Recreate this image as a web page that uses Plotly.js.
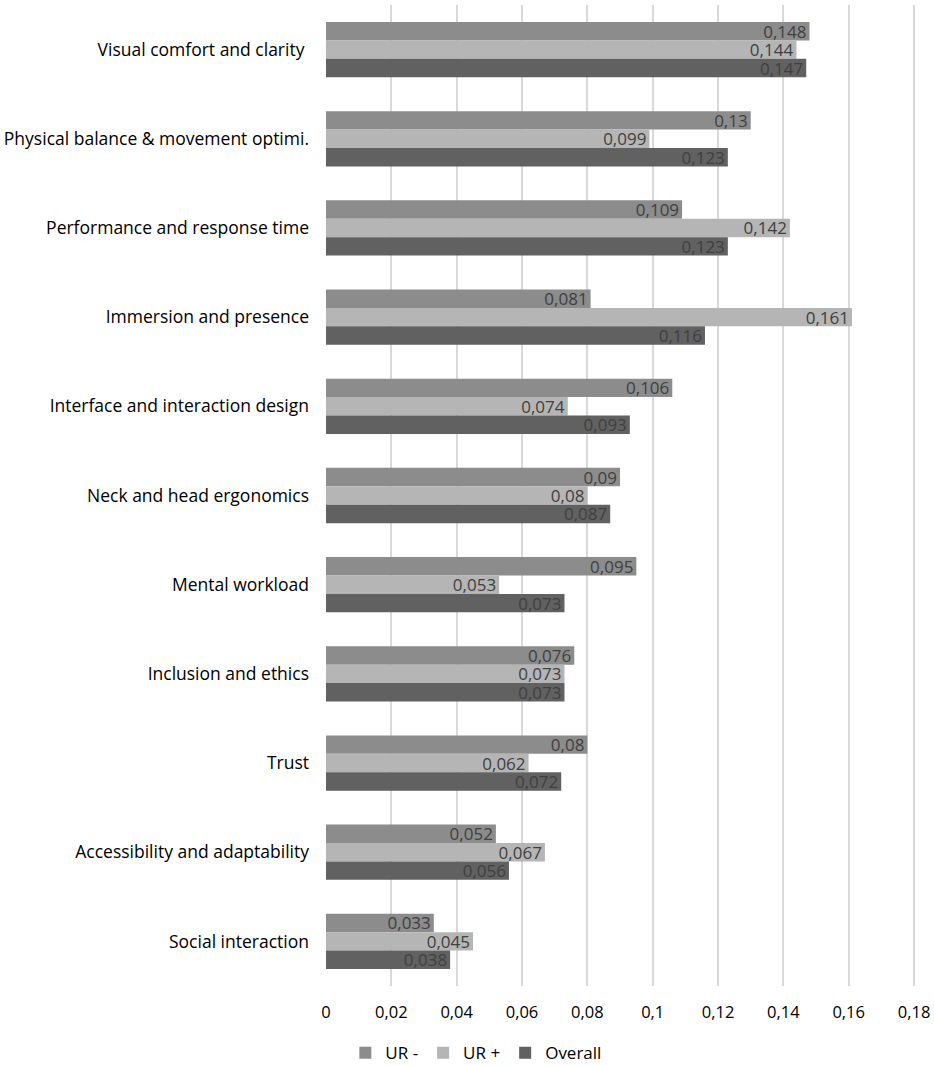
<!DOCTYPE html>
<html>
<head>
<meta charset="utf-8">
<script src="https://cdn.plot.ly/plotly-3.0.1.min.js"></script>
<style>
  html, body { margin: 0; padding: 0; background: #fff; }
  #chart { width: 934px; height: 1066px; }
</style>
</head>
<body>
<div id="chart"></div>
<script>
const categories = [
  "Visual comfort and clarity ",
  "Physical balance & movement optimi.",
  "Performance and response time",
  "Immersion and presence",
  "Interface and interaction design",
  "Neck and head ergonomics",
  "Mental workload",
  "Inclusion and ethics",
  "Trust",
  "Accessibility and adaptability",
  "Social interaction",
]
const urMinus = [0.148, 0.13, 0.109, 0.081, 0.106, 0.09, 0.095, 0.076, 0.08, 0.052, 0.033]
const urPlus = [0.144, 0.099, 0.142, 0.161, 0.074, 0.08, 0.053, 0.073, 0.062, 0.067, 0.045]
const overall = [0.147, 0.123, 0.123, 0.116, 0.093, 0.087, 0.073, 0.073, 0.072, 0.056, 0.038]
const tickVals = [0, 0.02, 0.04, 0.06, 0.08, 0.1, 0.12, 0.14, 0.16, 0.18]

const FONT = "Open Sans, sans-serif"

// comma as decimal separator, like the original
const label = (v) => String(v).replace(".", ",")

function series(name, values, color) {
  return {
    type: "bar",
    orientation: "h",
    name: name,
    y: categories,
    x: values,
    text: values.map(label),
    textposition: "inside",
    insidetextanchor: "end",
    constraintext: "none",
    textangle: 0,
    textfont: { family: FONT, size: 17, color: "#404040" },
    marker: { color: color },
    hoverinfo: "x+name",
  }
}

const data = [
  series("UR -", urMinus, "#8c8c8c"),
  series("UR +", urPlus, "#b5b5b5"),
  series("Overall", overall, "#616161"),
]

Plotly.newPlot("chart", data, {
  width: 934,
  height: 1066,
  margin: { l: 326, r: 18, t: 5, b: 80 },
  paper_bgcolor: "#fff",
  plot_bgcolor: "#fff",
  font: { family: FONT, size: 17.5, color: "#000" },
  separators: ",.",
  barmode: "group",
  bargap: 0.38,
  bargroupgap: 0,
  xaxis: {
    range: [0, 0.1806],
    tickvals: tickVals,
    showgrid: true,
    gridcolor: "#d9d9d9",
    gridwidth: 1.5,
    zeroline: false,
    showline: false,
    ticks: "",
    ticklabelstandoff: 14,
    ticklabeloverflow: "allow",
    tickfont: { family: FONT, size: 16.5, color: "#000" },
    fixedrange: true,
  },
  yaxis: {
    autorange: "reversed",
    showgrid: false,
    zeroline: false,
    showline: false,
    ticks: "",
    ticklabelstandoff: 16,
    tickfont: { family: FONT, size: 17.5, color: "#000" },
    fixedrange: true,
  },
  legend: {
    orientation: "h",
    xref: "container",
    x: 0.51,
    xanchor: "center",
    yref: "container",
    y: 0.012,
    yanchor: "middle",
    font: { family: FONT, size: 17, color: "#000" },
    itemwidth: 30,
    traceorder: "normal",
  },
  showlegend: true,
}, { displayModeBar: false })
</script>
</body>
</html>
